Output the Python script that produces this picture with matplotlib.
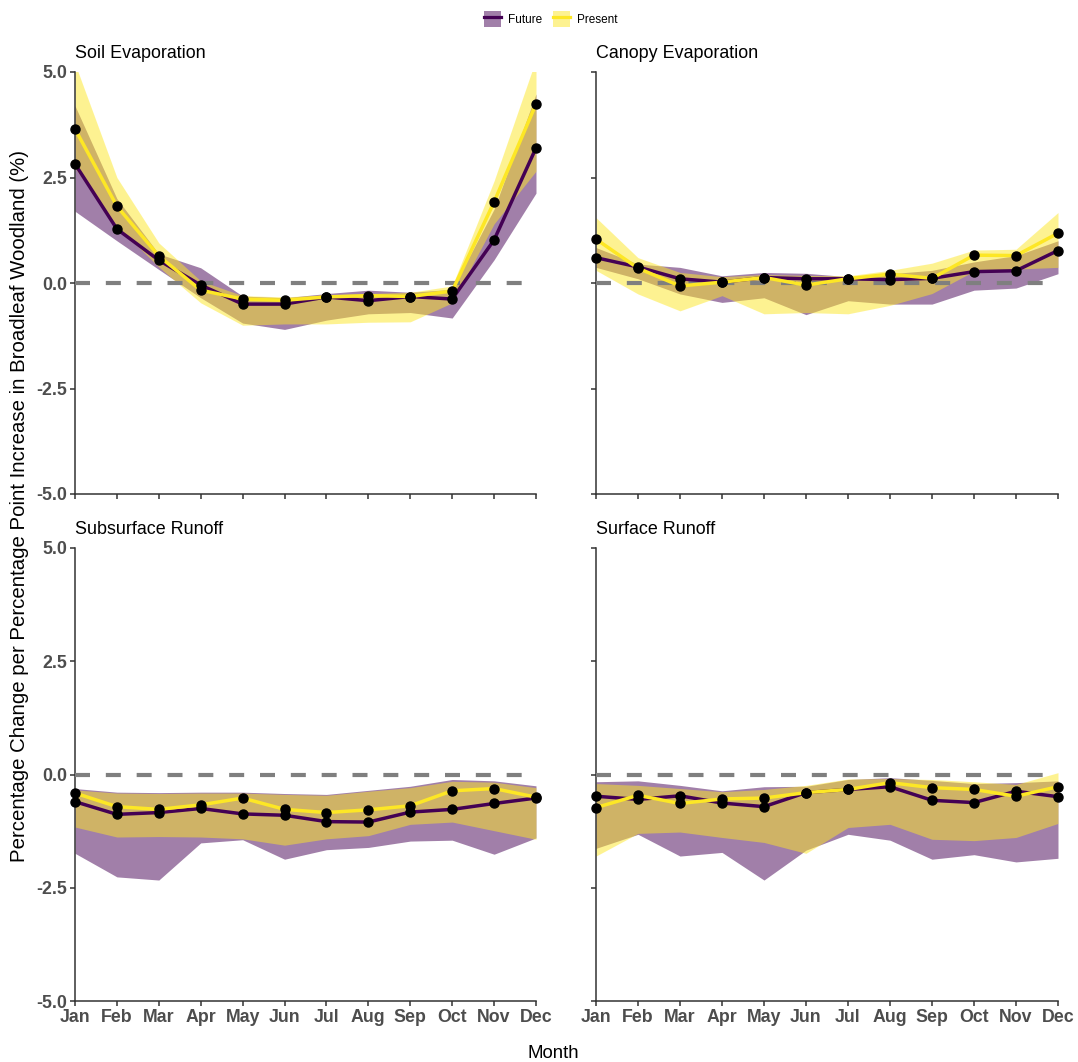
import matplotlib
matplotlib.use("Agg")
import matplotlib.pyplot as plt
from matplotlib.patches import Patch
from matplotlib.lines import Line2D
import numpy as np

plt.rcParams['font.family'] = ['Liberation Sans', 'DejaVu Sans']

months = ['Jan', 'Feb', 'Mar', 'Apr', 'May', 'Jun', 'Jul', 'Aug', 'Sep', 'Oct', 'Nov', 'Dec']
panels = ['Soil Evaporation', 'Canopy Evaporation', 'Subsurface Runoff', 'Surface Runoff']

# Soil Evaporation
soil_future_mean = [2.82, 1.28, 0.54, -0.05, -0.50, -0.50, -0.33, -0.42, -0.32, -0.38, 1.02, 3.20]
soil_future_lo = [1.70, 1.00, 0.32, -0.35, -0.95, -1.10, -0.88, -0.73, -0.70, -0.83, 0.55, 2.13]
soil_future_hi = [4.20, 2.00, 0.69, 0.36, -0.31, -0.35, -0.25, -0.17, -0.22, -0.15, 1.75, 4.48]
soil_present_mean = [3.65, 1.82, 0.64, -0.17, -0.38, -0.41, -0.33, -0.30, -0.32, -0.19, 1.92, 4.24]
soil_present_lo = [2.72, 1.35, 0.38, -0.47, -1.00, -0.97, -0.97, -0.93, -0.92, -0.47, 1.40, 2.65]
soil_present_hi = [5.20, 2.50, 0.95, 0.05, -0.30, -0.33, -0.28, -0.25, -0.22, -0.07, 2.42, 5.30]

# Canopy Evaporation
canopy_future_mean = [0.60, 0.38, 0.10, 0.02, 0.13, 0.10, 0.10, 0.08, 0.11, 0.27, 0.29, 0.77]
canopy_future_lo = [0.37, 0.10, -0.26, -0.46, -0.35, -0.75, -0.42, -0.50, -0.50, -0.17, -0.12, 0.22]
canopy_future_hi = [0.84, 0.45, 0.37, 0.17, 0.25, 0.23, 0.15, 0.22, 0.30, 0.50, 0.65, 1.00]
canopy_present_mean = [1.04, 0.35, -0.07, 0.02, 0.13, -0.05, 0.10, 0.21, 0.11, 0.66, 0.65, 1.18]
canopy_present_lo = [0.30, -0.26, -0.66, -0.30, -0.73, -0.70, -0.73, -0.53, -0.25, 0.28, 0.33, 0.37]
canopy_present_hi = [1.55, 0.60, 0.25, 0.15, 0.20, 0.18, 0.17, 0.30, 0.47, 0.78, 0.80, 1.67]

# Subsurface Runoff
sub_future_mean = [-0.60, -0.88, -0.84, -0.75, -0.87, -0.90, -1.04, -1.05, -0.83, -0.77, -0.64, -0.52]
sub_future_lo = [-1.74, -2.26, -2.33, -1.51, -1.44, -1.87, -1.66, -1.61, -1.47, -1.45, -1.76, -1.40]
sub_future_hi = [-0.31, -0.39, -0.40, -0.39, -0.39, -0.42, -0.44, -0.35, -0.26, -0.11, -0.14, -0.25]
sub_present_mean = [-0.41, -0.71, -0.77, -0.67, -0.52, -0.77, -0.84, -0.78, -0.69, -0.36, -0.31, -0.50]
sub_present_lo = [-1.16, -1.38, -1.37, -1.38, -1.42, -1.56, -1.42, -1.35, -1.10, -1.05, -1.24, -1.43]
sub_present_hi = [-0.34, -0.41, -0.42, -0.41, -0.41, -0.44, -0.46, -0.37, -0.29, -0.15, -0.17, -0.29]

# Surface Runoff
surf_future_mean = [-0.48, -0.55, -0.47, -0.63, -0.71, -0.40, -0.33, -0.27, -0.57, -0.62, -0.37, -0.49]
surf_future_lo = [-1.63, -1.32, -1.80, -1.72, -2.33, -1.67, -1.32, -1.45, -1.87, -1.77, -1.93, -1.85]
surf_future_hi = [-0.16, -0.14, -0.24, -0.36, -0.27, -0.26, -0.11, -0.07, -0.13, -0.20, -0.18, -0.14]
surf_present_mean = [-0.73, -0.46, -0.64, -0.54, -0.52, -0.40, -0.33, -0.18, -0.29, -0.33, -0.48, -0.27]
surf_present_lo = [-1.80, -1.30, -1.27, -1.39, -1.50, -1.74, -1.17, -1.10, -1.43, -1.46, -1.39, -1.08]
surf_present_hi = [-0.20, -0.24, -0.31, -0.38, -0.33, -0.24, -0.10, -0.09, -0.11, -0.16, -0.22, 0.04]

data = {
    'Soil Evaporation': (soil_future_mean, soil_future_lo, soil_future_hi,
                         soil_present_mean, soil_present_lo, soil_present_hi),
    'Canopy Evaporation': (canopy_future_mean, canopy_future_lo, canopy_future_hi,
                           canopy_present_mean, canopy_present_lo, canopy_present_hi),
    'Subsurface Runoff': (sub_future_mean, sub_future_lo, sub_future_hi,
                          sub_present_mean, sub_present_lo, sub_present_hi),
    'Surface Runoff': (surf_future_mean, surf_future_lo, surf_future_hi,
                       surf_present_mean, surf_present_lo, surf_present_hi),
}

FUT = '#440154'
PRE = '#FDE725'
W, H = 1078, 1062
fig = plt.figure(figsize=(W / 100, H / 100), dpi=100)

# axes rectangles in pixels: (left, top, right, bottom)
rects = [(75, 72, 536, 494), (596, 72, 1058, 494),
         (75, 548, 536, 1001), (596, 548, 1058, 1001)]

x = np.arange(len(months))
tick_col = '#4D4D4D'
for i, (name, (l, t, r, b)) in enumerate(zip(panels, rects)):
    ax = fig.add_axes([l / W, 1 - b / H, (r - l) / W, (b - t) / H])
    fm, flo, fhi, pm, plo, phi = data[name]
    ax.fill_between(x, flo, fhi, color=FUT, alpha=0.5, linewidth=0, zorder=1)
    ax.fill_between(x, plo, phi, color=PRE, alpha=0.5, linewidth=0, zorder=2)
    ax.axhline(0, color='#7F7F7F', linewidth=3, linestyle=(0, (3.6, 3.8)), zorder=3)
    ax.plot(x, fm, color=FUT, linewidth=2.5, zorder=4, solid_capstyle='butt')
    ax.plot(x, pm, color=PRE, linewidth=2.5, zorder=5, solid_capstyle='butt')
    ax.plot(x, fm, 'o', color='black', markersize=6.5, zorder=6, clip_on=False)
    ax.plot(x, pm, 'o', color='black', markersize=6.5, zorder=6, clip_on=False)
    ax.set_xlim(0, 11)
    ax.set_ylim(-5, 5)
    ax.set_yticks([-5, -2.5, 0, 2.5, 5])
    ax.set_xticks(x)
    for s in ['top', 'right']:
        ax.spines[s].set_visible(False)
    for s in ['left', 'bottom']:
        ax.spines[s].set_color('#333333')
        ax.spines[s].set_linewidth(1.1)
    ax.tick_params(axis='both', direction='out', length=3.5, width=1.1, color='#333333',
                   labelsize=12.8, labelcolor=tick_col, pad=2)
    if i % 2 == 0:
        ax.set_yticklabels(['-5.0', '-2.5', '0.0', '2.5', '5.0'], fontweight='bold')
    else:
        ax.set_yticklabels([])
    if i >= 2:
        ax.set_xticklabels(months, fontweight='bold')
    else:
        ax.set_xticklabels([])
    ax.annotate(name, xy=(0, 1), xycoords='axes fraction', xytext=(0, 13.5),
                textcoords='offset points', ha='left', va='center', fontsize=12.9, color='black')

fig.text(20 / W, 1 - 506 / H,
         'Percentage Change per Percentage Point Increase in Broadleaf Woodland (%)',
         rotation=90, ha='center', va='center', fontsize=14.7)
fig.text(553 / W, 1 - 1053 / H, 'Month', ha='center', va='center', fontsize=13.4)

h_f = (Patch(facecolor=FUT, alpha=0.5, edgecolor='none'), Line2D([], [], color=FUT, linewidth=2.3))
h_p = (Patch(facecolor=PRE, alpha=0.5, edgecolor='none'), Line2D([], [], color=PRE, linewidth=2.3))
fig.legend([h_f, h_p], ['Future', 'Present'], loc='center', bbox_to_anchor=(551 / W, 1 - 19 / H),
           ncol=2, frameon=False, fontsize=8.5, handlelength=1.45, handleheight=1.7,
           handletextpad=0.6, columnspacing=0.9, borderpad=0.2)

fig.savefig('out.png', dpi=100)
